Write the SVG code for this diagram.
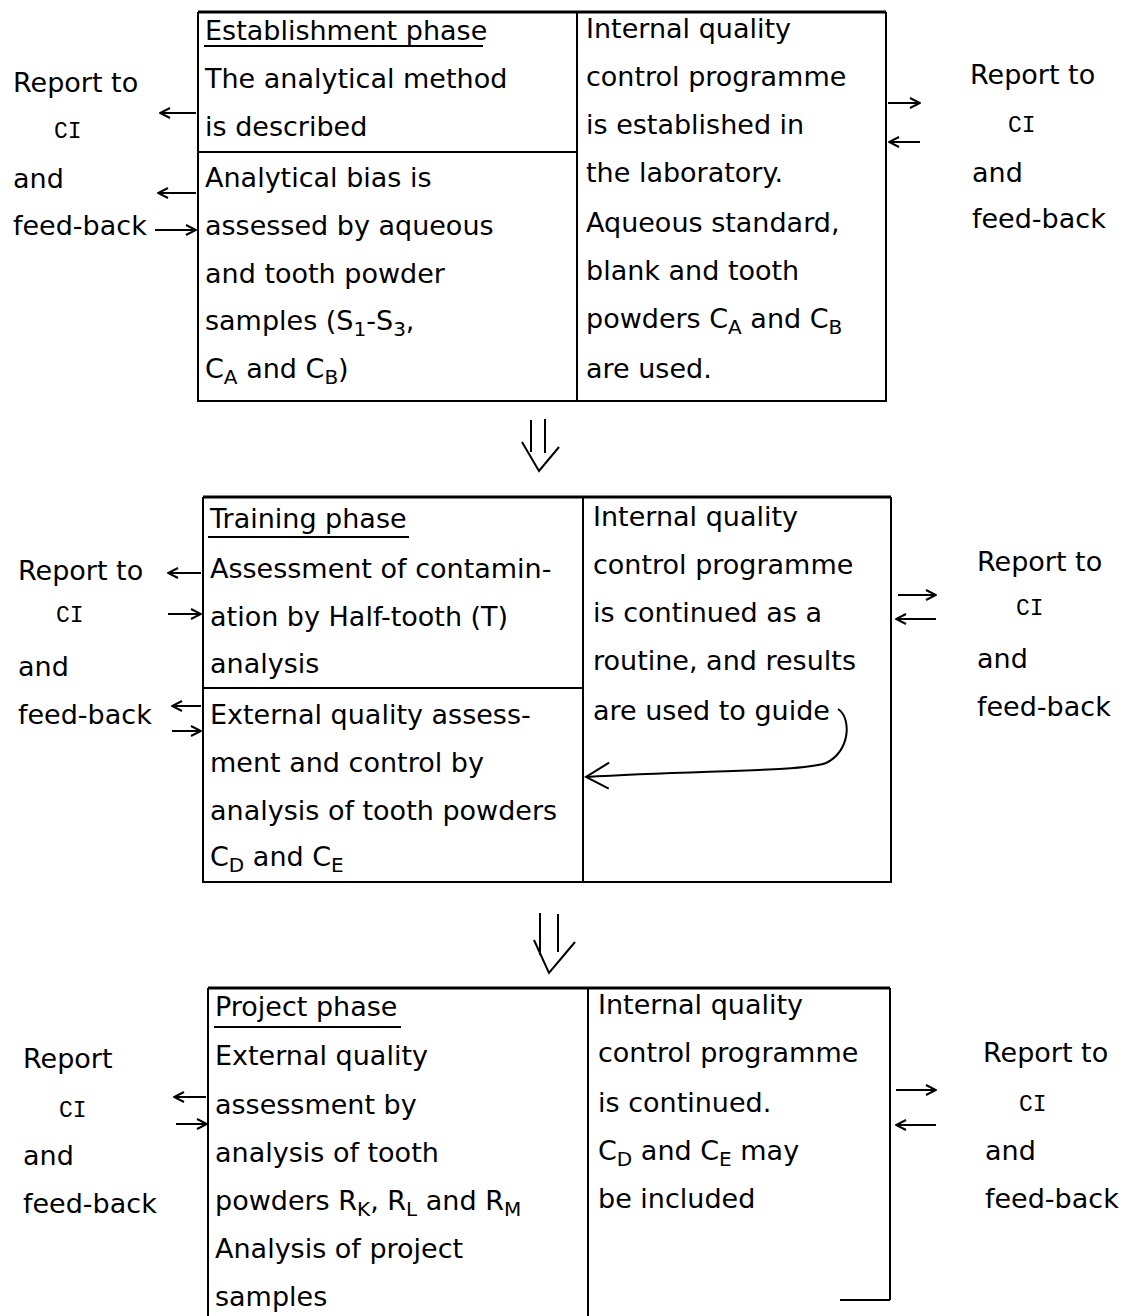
<svg xmlns="http://www.w3.org/2000/svg" width="1125" height="1316" viewBox="0 0 1125 1316">
<defs>
<style>
.t{font-family:"DejaVu Sans","Liberation Sans",sans-serif;font-size:27px;fill:#000}
.m{font-family:"Liberation Mono","DejaVu Sans Mono",monospace;font-size:23px;fill:#000}
.b{fill:none;stroke:#000;stroke-width:2}
.bt{fill:none;stroke:#000;stroke-width:3}
.u{stroke:#000;stroke-width:2}
.c{fill:none;stroke:#000;stroke-width:2}
</style>
<marker id="ah" viewBox="0 0 12 12" refX="11" refY="6" markerWidth="12" markerHeight="12" markerUnits="userSpaceOnUse" orient="auto">
<path d="M1,1 L11,6 L1,11" fill="none" stroke="#000" stroke-width="2"/>
</marker>
<marker id="ahL" viewBox="0 0 30 30" refX="28" refY="15" markerWidth="30" markerHeight="30" markerUnits="userSpaceOnUse" orient="auto">
<path d="M6,2 L28,15 L4,28" fill="none" stroke="#000" stroke-width="2"/>
</marker>
</defs>
<rect width="1125" height="1316" fill="#fff"/>

<!-- Block 1 -->
<g id="establishment-phase">
<path class="b" d="M198,12 V401 H577 M198,152 H577"/>
<path class="bt" d="M198,12 H577"/>
<line class="u" x1="204" y1="46" x2="483" y2="46"/>
<text class="t" x="205" y="40">Establishment phase</text>
<text class="t" x="205" y="88">The analytical method</text>
<text class="t" x="205" y="136">is described</text>
</g>
<g id="analytical-bias">
<text class="t" x="205" y="187">Analytical bias is</text>
<text class="t" x="205" y="235">assessed by aqueous</text>
<text class="t" x="205" y="283">and tooth powder</text>
<text class="t" x="205" y="330">samples (S<tspan font-size="20" dy="6">1</tspan><tspan dy="-6">-S</tspan><tspan font-size="20" dy="6">3</tspan><tspan dy="-6">,</tspan></text>
<text class="t" x="205" y="378">C<tspan font-size="20" dy="6">A</tspan><tspan dy="-6"> and C</tspan><tspan font-size="20" dy="6">B</tspan><tspan dy="-6">)</tspan></text>
</g>
<g id="internal-qc-1">
<path class="b" d="M577,12 V401 H886 V12"/>
<path class="bt" d="M577,12 H886"/>
<text class="t" x="586" y="38">Internal quality</text>
<text class="t" x="586" y="86">control programme</text>
<text class="t" x="586" y="134">is established in</text>
<text class="t" x="586" y="182">the laboratory.</text>
<text class="t" x="586" y="232">Aqueous standard,</text>
<text class="t" x="586" y="280">blank and tooth</text>
<text class="t" x="586" y="328">powders C<tspan font-size="20" dy="6">A</tspan><tspan dy="-6"> and C</tspan><tspan font-size="20" dy="6">B</tspan></text>
<text class="t" x="586" y="378">are used.</text>
</g>
<g id="report-left-1">
<text class="t" x="13" y="92">Report to</text>
<text class="m" x="54" y="138">CI</text>
<text class="t" x="13" y="188">and</text>
<text class="t" x="13" y="235">feed-back</text>
</g>
<g id="report-right-1">
<text class="t" x="970" y="84">Report to</text>
<text class="m" x="1008" y="132">CI</text>
<text class="t" x="972" y="182">and</text>
<text class="t" x="972" y="228">feed-back</text>
</g>

<!-- Block 2 -->
<g id="training-phase">
<path class="b" d="M203,497 V882 H583 M203,688 H583"/>
<path class="bt" d="M203,497 H583"/>
<line class="u" x1="208" y1="537" x2="409" y2="537"/>
<text class="t" x="210" y="528">Training phase</text>
<text class="t" x="210" y="578">Assessment of contamin-</text>
<text class="t" x="210" y="626">ation by Half-tooth (T)</text>
<text class="t" x="210" y="673">analysis</text>
</g>
<g id="external-qa-training">
<text class="t" x="210" y="724">External quality assess-</text>
<text class="t" x="210" y="772">ment and control by</text>
<text class="t" x="210" y="820">analysis of tooth powders</text>
<text class="t" x="210" y="866">C<tspan font-size="20" dy="6">D</tspan><tspan dy="-6"> and C</tspan><tspan font-size="20" dy="6">E</tspan></text>
</g>
<g id="internal-qc-2">
<path class="b" d="M583,497 V882 H891 V497"/>
<path class="bt" d="M583,497 H891"/>
<text class="t" x="593" y="526">Internal quality</text>
<text class="t" x="593" y="574">control programme</text>
<text class="t" x="593" y="622">is continued as a</text>
<text class="t" x="593" y="670">routine, and results</text>
<text class="t" x="593" y="720">are used to guide</text>
</g>
<g id="report-left-2">
<text class="t" x="18" y="580">Report to</text>
<text class="m" x="56" y="622">CI</text>
<text class="t" x="18" y="676">and</text>
<text class="t" x="18" y="724">feed-back</text>
</g>
<g id="report-right-2">
<text class="t" x="977" y="571">Report to</text>
<text class="m" x="1016" y="615">CI</text>
<text class="t" x="977" y="668">and</text>
<text class="t" x="977" y="716">feed-back</text>
</g>

<!-- Block 3 -->
<g id="project-phase">
<path class="b" d="M208,988 V1316"/>
<path class="bt" d="M208,988 H588"/>
<line class="u" x1="214" y1="1027" x2="401" y2="1027"/>
<text class="t" x="215" y="1016">Project phase</text>
<text class="t" x="215" y="1065">External quality</text>
<text class="t" x="215" y="1114">assessment by</text>
<text class="t" x="215" y="1162">analysis of tooth</text>
<text class="t" x="215" y="1210">powders R<tspan font-size="20" dy="6">K</tspan><tspan dy="-6">, R</tspan><tspan font-size="20" dy="6">L</tspan><tspan dy="-6"> and R</tspan><tspan font-size="20" dy="6">M</tspan></text>
<text class="t" x="215" y="1258">Analysis of project</text>
<text class="t" x="215" y="1306">samples</text>
</g>
<g id="internal-qc-3">
<path class="b" d="M588,988 V1316 M890,988 V1300 M840,1300 H890"/>
<path class="bt" d="M588,988 H890"/>
<text class="t" x="598" y="1014">Internal quality</text>
<text class="t" x="598" y="1062">control programme</text>
<text class="t" x="598" y="1112">is continued.</text>
<text class="t" x="598" y="1160">C<tspan font-size="20" dy="6">D</tspan><tspan dy="-6"> and C</tspan><tspan font-size="20" dy="6">E</tspan><tspan dy="-6"> may</tspan></text>
<text class="t" x="598" y="1208">be included</text>
</g>
<g id="report-left-3">
<text class="t" x="23" y="1068">Report</text>
<text class="m" x="59" y="1117">CI</text>
<text class="t" x="23" y="1165">and</text>
<text class="t" x="23" y="1213">feed-back</text>
</g>
<g id="report-right-3">
<text class="t" x="983" y="1062">Report to</text>
<text class="m" x="1019" y="1111">CI</text>
<text class="t" x="985" y="1160">and</text>
<text class="t" x="985" y="1208">feed-back</text>
</g>

<!-- Connectors -->
<g id="connectors">
<line class="c" x1="196" y1="113" x2="160" y2="113" marker-end="url(#ah)"/>
<line class="c" x1="196" y1="193" x2="158" y2="193" marker-end="url(#ah)"/>
<line class="c" x1="155" y1="230" x2="196" y2="230" marker-end="url(#ah)"/>
<line class="c" x1="888" y1="103" x2="920" y2="103" marker-end="url(#ah)"/>
<line class="c" x1="920" y1="142" x2="889" y2="142" marker-end="url(#ah)"/>
<line class="c" x1="201" y1="573" x2="168" y2="573" marker-end="url(#ah)"/>
<line class="c" x1="168" y1="614" x2="201" y2="614" marker-end="url(#ah)"/>
<line class="c" x1="201" y1="706" x2="172" y2="706" marker-end="url(#ah)"/>
<line class="c" x1="172" y1="731" x2="201" y2="731" marker-end="url(#ah)"/>
<line class="c" x1="898" y1="595" x2="936" y2="595" marker-end="url(#ah)"/>
<line class="c" x1="936" y1="619" x2="896" y2="619" marker-end="url(#ah)"/>
<path class="c" d="M838,709 C852,718 850,752 826,763 C800,772 700,770 586,777" marker-end="url(#ahL)"/>
<line class="c" x1="206" y1="1097" x2="174" y2="1097" marker-end="url(#ah)"/>
<line class="c" x1="176" y1="1124" x2="207" y2="1124" marker-end="url(#ah)"/>
<line class="c" x1="896" y1="1090" x2="936" y2="1090" marker-end="url(#ah)"/>
<line class="c" x1="936" y1="1125" x2="896" y2="1125" marker-end="url(#ah)"/>
<path class="c" d="M531,420 V452 M545,419 V453 M522,442 L539,471 L559,447"/>
<path class="c" d="M540,913 V955 M558,914 V952 M534,940 L549,973 L575,942"/>
</g>
</svg>
